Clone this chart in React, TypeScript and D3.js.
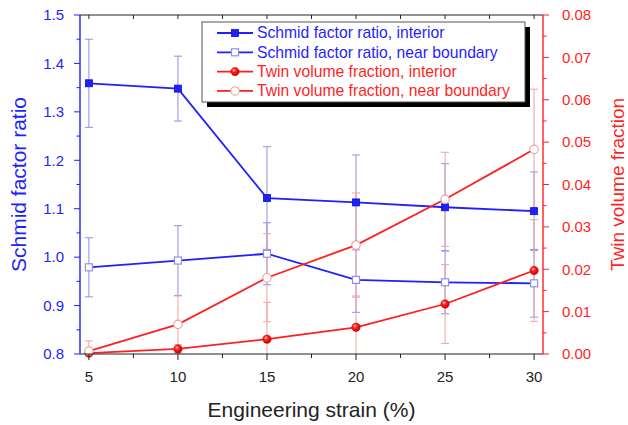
import React from 'react';
import { scaleLinear, line, range } from 'd3';

const strain = [5, 10, 15, 20, 25, 30];

const sfInterior = [1.359, 1.348, 1.122, 1.113, 1.103, 1.095];
const sfInteriorErr = [0.091, 0.067, 0.106, 0.098, 0.09, 0.081];
const sfBoundary = [0.979, 0.993, 1.007, 0.953, 0.948, 0.946];
const sfBoundaryErr = [0.061, 0.072, 0.064, 0.067, 0.065, 0.07];

const tvfInterior = [0.0002, 0.0012, 0.0035, 0.0063, 0.0118, 0.0197];
const tvfInteriorErr = [0.0004, 0.001, 0.0087, 0.0074, 0.0093, 0.012];
const tvfBoundary = [0.0007, 0.007, 0.018, 0.0257, 0.0365, 0.0483];
const tvfBoundaryErr = [0.0024, 0.0067, 0.0104, 0.0123, 0.0111, 0.0142];

const legendLabels = [
  'Schmid factor ratio, interior',
  'Schmid factor ratio, near boundary',
  'Twin volume fraction, interior',
  'Twin volume fraction, near boundary',
];

const BLUE = '#1f1fff';
const RED = '#ff1f1f';
const BLUE_ERR = '#9090e6';
const RED_ERR = '#f2a2a2';
const FONT = 'Liberation Sans, Arial, sans-serif';

const W = 628;
const H = 425;
const left = 80;
const right = 543;
const top = 15;
const bottom = 354;

const x = scaleLinear().domain([4.5, 30.5]).range([left, right]);
const yL = scaleLinear().domain([0.8, 1.5]).range([bottom, top]);
const yR = scaleLinear().domain([0, 0.08]).range([bottom, top]);

const ErrorBars = ({ vals, errs, y, color }) => (
  <g stroke={color} strokeWidth={1} clipPath="url(#plot)">
    {strain.map((s, i) => {
      const cx = x(s);
      const y1 = y(vals[i] + errs[i]);
      const y2 = y(vals[i] - errs[i]);
      return (
        <g key={s}>
          <line x1={cx} x2={cx} y1={y1} y2={y2} />
          <line x1={cx - 4} x2={cx + 4} y1={y1} y2={y1} />
          <line x1={cx - 4} x2={cx + 4} y1={y2} y2={y2} />
        </g>
      );
    })}
  </g>
);

const Square = ({ cx, cy, filled }) =>
  filled ? (
    <rect x={cx - 3.5} y={cy - 3.5} width={7} height={7} fill={BLUE} stroke="#1010d0" strokeWidth={0.8} />
  ) : (
    <rect x={cx - 3.5} y={cy - 3.5} width={7} height={7} fill="#fff" stroke={BLUE_ERR} strokeWidth={1.2} />
  );

const Circle = ({ cx, cy, filled }) =>
  filled ? (
    <circle cx={cx} cy={cy} r={4.2} fill="url(#ball)" stroke="#e00000" strokeWidth={0.6} />
  ) : (
    <circle cx={cx} cy={cy} r={4.2} fill="#fff" stroke="#e8a0a0" strokeWidth={1.1} />
  );

export default function App() {
  const lineL = line<number>().x((d, i) => x(strain[i])).y(d => yL(d));
  const lineR = line<number>().x((d, i) => x(strain[i])).y(d => yR(d));

  const leftMajor = range(0, 8).map(i => 0.8 + i * 0.1);
  const leftMinor = range(0, 7).map(i => 0.85 + i * 0.1);
  const rightMajor = range(0, 9).map(i => i * 0.01);
  const rightMinor = range(0, 8).map(i => 0.005 + i * 0.01);
  const xMajor = strain;
  const xMinor = range(0, 5).map(i => 7.5 + i * 5);
  const xAll = range(0, 11).map(i => 5 + i * 2.5);

  const legX = 202;
  const legY = 22;
  const legW = 323;
  const legH = 80;

  return (
    <svg width={W} height={H} style={{ position: 'absolute', left: 0, top: 0, background: '#fff' }} fontFamily={FONT}>
      <defs>
        <clipPath id="plot">
          <rect x={left} y={top} width={right - left} height={bottom - top} />
        </clipPath>
        <radialGradient id="ball" cx="0.38" cy="0.35" r="0.7">
          <stop offset="0" stopColor="#ffd0d0" />
          <stop offset="0.35" stopColor="#ff2020" />
          <stop offset="1" stopColor="#c00000" />
        </radialGradient>
      </defs>
      <rect width={W} height={H} fill="#fff" />

      {/* error bars */}
      <ErrorBars vals={sfInterior} errs={sfInteriorErr} y={yL} color={BLUE_ERR} />
      <ErrorBars vals={sfBoundary} errs={sfBoundaryErr} y={yL} color={BLUE_ERR} />
      <ErrorBars vals={tvfInterior} errs={tvfInteriorErr} y={yR} color={RED_ERR} />
      <ErrorBars vals={tvfBoundary} errs={tvfBoundaryErr} y={yR} color={RED_ERR} />

      {/* lines */}
      <path d={lineL(sfInterior)} fill="none" stroke={BLUE} strokeWidth={1.8} />
      <path d={lineL(sfBoundary)} fill="none" stroke={BLUE} strokeWidth={1.8} />
      {sfInterior.map((v, i) => <Square key={'a' + i} cx={x(strain[i])} cy={yL(v)} filled />)}
      {sfBoundary.map((v, i) => <Square key={'b' + i} cx={x(strain[i])} cy={yL(v)} filled={false} />)}
      <path d={lineR(tvfInterior)} fill="none" stroke={RED} strokeWidth={1.8} />
      <path d={lineR(tvfBoundary)} fill="none" stroke={RED} strokeWidth={1.8} />
      {tvfInterior.map((v, i) => <Circle key={'c' + i} cx={x(strain[i])} cy={yR(v)} filled />)}
      {tvfBoundary.map((v, i) => <Circle key={'d' + i} cx={x(strain[i])} cy={yR(v)} filled={false} />)}

      {/* top axis */}
      <line x1={left} x2={right} y1={top} y2={top} stroke="#222" strokeWidth={1.2} />
      {xAll.map(t => (
        <line key={t} x1={x(t)} x2={x(t)} y1={top} y2={top + 4} stroke="#222" />
      ))}

      {/* bottom axis */}
      <line x1={left} x2={right} y1={bottom} y2={bottom} stroke="#222" strokeWidth={1.2} />
      {xMajor.map(t => (
        <g key={t}>
          <line x1={x(t)} x2={x(t)} y1={bottom} y2={bottom + 6} stroke="#222" />
          <text x={x(t)} y={382} fontSize={15} textAnchor="middle" fill="#222">{t}</text>
        </g>
      ))}
      {xMinor.map(t => (
        <line key={t} x1={x(t)} x2={x(t)} y1={bottom} y2={bottom + 4} stroke="#222" />
      ))}
      <text x={(left + right) / 2} y={417} fontSize={21} textAnchor="middle" fill="#222">
        Engineering strain (%)
      </text>

      {/* left axis */}
      <line x1={left} x2={left} y1={top} y2={bottom} stroke={BLUE} strokeWidth={1.4} />
      {leftMajor.map(t => (
        <g key={t}>
          <line x1={left - 6} x2={left} y1={yL(t)} y2={yL(t)} stroke={BLUE} />
          <text x={64} y={yL(t)} dy="0.35em" fontSize={15} textAnchor="end" fill={BLUE}>{t.toFixed(1)}</text>
        </g>
      ))}
      {leftMinor.map(t => (
        <line key={t} x1={left - 3.5} x2={left} y1={yL(t)} y2={yL(t)} stroke={BLUE} />
      ))}
      <text transform={`translate(26,${(top + bottom) / 2}) rotate(-90)`} fontSize={21} textAnchor="middle" fill={BLUE}>
        Schmid factor ratio
      </text>

      {/* right axis */}
      <line x1={right} x2={right} y1={top} y2={bottom} stroke={RED} strokeWidth={1.4} />
      {rightMajor.map(t => (
        <g key={t}>
          <line x1={right} x2={right + 6} y1={yR(t)} y2={yR(t)} stroke={RED} />
          <text x={562} y={yR(t)} dy="0.35em" fontSize={15} textAnchor="start" fill={RED}>{t.toFixed(2)}</text>
        </g>
      ))}
      {rightMinor.map(t => (
        <line key={t} x1={right} x2={right + 3.5} y1={yR(t)} y2={yR(t)} stroke={RED} />
      ))}
      <text transform={`translate(624,${(top + bottom) / 2}) rotate(-90)`} fontSize={19} textAnchor="middle" fill={RED}>
        Twin volume fraction
      </text>

      {/* legend */}
      <rect x={legX + 5} y={legY + 5} width={legW} height={legH} fill="#000" />
      <rect x={legX} y={legY} width={legW} height={legH} fill="#fff" stroke="#555" strokeWidth={1} />
      {legendLabels.map((lab, i) => {
        const ly = 33 + i * 19.3;
        const c = i < 2 ? BLUE : RED;
        return (
          <g key={lab}>
            <line x1={217} x2={253} y1={ly} y2={ly} stroke={c} strokeWidth={1.8} />
            {i === 0 && <Square cx={235} cy={ly} filled />}
            {i === 1 && <Square cx={235} cy={ly} filled={false} />}
            {i === 2 && <Circle cx={235} cy={ly} filled />}
            {i === 3 && <Circle cx={235} cy={ly} filled={false} />}
            <text x={257} y={ly} dy="0.35em" fontSize={15.7} fill={c}>{lab}</text>
          </g>
        );
      })}
    </svg>
  );
}
